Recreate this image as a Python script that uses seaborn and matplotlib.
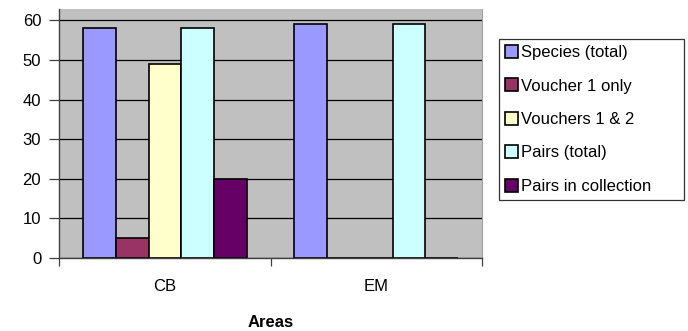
import matplotlib.pyplot as plt
import numpy as np
import pandas as pd
import seaborn as sns

plt.rcParams['font.family'] = ['Liberation Sans', 'DejaVu Sans']
plt.rcParams['font.size'] = 12

areas = ["CB", "EM"]
series = ["Species (total)", "Voucher 1 only", "Vouchers 1 & 2",
          "Pairs (total)", "Pairs in collection"]
cb_values = [58, 5, 49, 58, 20]
em_values = [59, 0, 0, 59, 0]
palette = ["#9999ff", "#993366", "#ffffcc", "#ccffff", "#660066"]

rows = []
for area, vals in zip(areas, [cb_values, em_values]):
    for s, v in zip(series, vals):
        rows.append({"Areas": area, "Series": s, "Count": v})
df = pd.DataFrame(rows)

fig = plt.figure(figsize=(6.88, 3.31), dpi=100)
ax = fig.add_axes([59.3 / 688, 1 - 258 / 331, (482 - 59.3) / 688, (258 - 9) / 331])

sns.barplot(data=df, x="Areas", y="Count", hue="Series", order=areas,
            hue_order=series, palette=palette, saturation=1, width=0.775,
            edgecolor="black", linewidth=1.2, ax=ax, legend=True)

ax.set_facecolor("#c0c0c0")
ax.set_axisbelow(True)
ax.yaxis.grid(True, color="black", linewidth=0.9)
ax.set_ylim(0, 62.9)
ax.set_xlim(-0.5, 1.5)
ax.set_yticks(np.arange(0, 61, 10))
ax.tick_params(axis="y", length=7, width=0.9, color="#404040", pad=6)
ax.tick_params(axis="x", which="major", length=0, pad=15)
ax.set_xticks([-0.5, 0.5, 1.5], minor=True)
ax.tick_params(axis="x", which="minor", length=6, width=0.9, color="#404040")

for side in ["left", "bottom"]:
    ax.spines[side].set_color("#404040")
    ax.spines[side].set_linewidth(1.0)
ax.spines["top"].set_visible(False)
ax.spines["right"].set_color("#a0a0a0")

ax.set_ylabel("")
ax.set_xlabel("Areas", fontweight="bold", labelpad=15)

handles, labels = ax.get_legend_handles_labels()
ax.get_legend().remove()
leg = fig.legend(handles, labels, loc="upper left",
                 bbox_to_anchor=(499 / 688, 1 - 200 / 331, 185 / 688, 161 / 331),
                 mode="expand", borderaxespad=0,
                 frameon=True, fancybox=False, edgecolor="black",
                 handlelength=0.8, handleheight=0.8, handletextpad=0.2,
                 labelspacing=1.1, borderpad=0.35)
leg.get_frame().set_linewidth(0.9)

fig.savefig("out.png", dpi=100)
